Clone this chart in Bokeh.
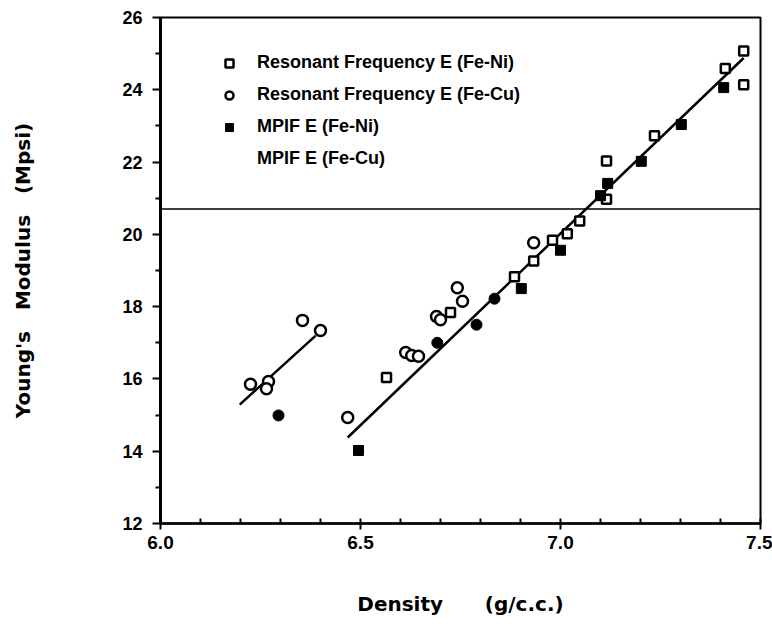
from bokeh.plotting import figure
from bokeh.models import Range1d, Span, Legend, LegendItem, FixedTicker
from bokeh.embed import file_html
from bokeh.resources import INLINE

# Resonant Frequency E (Fe-Ni) - open squares
rf_ni_x = [6.565, 6.725, 6.885, 6.933, 6.98, 7.017, 7.048, 7.115, 7.115, 7.235, 7.412, 7.458, 7.458]
rf_ni_y = [16.04, 17.84, 18.83, 19.26, 19.84, 20.02, 20.37, 22.03, 20.97, 22.73, 24.59, 25.07, 24.14]

# Resonant Frequency E (Fe-Cu) - open circles
rf_cu_x = [6.225, 6.27, 6.265, 6.355, 6.40, 6.468, 6.613, 6.628, 6.645, 6.69, 6.70, 6.742, 6.755, 6.933]
rf_cu_y = [15.85, 15.93, 15.73, 17.62, 17.34, 14.93, 16.73, 16.65, 16.63, 17.73, 17.64, 18.52, 18.15, 19.77]

# MPIF E (Fe-Ni) - filled squares
mp_ni_x = [6.495, 6.902, 7.0, 7.1, 7.118, 7.202, 7.302, 7.408]
mp_ni_y = [14.02, 18.5, 19.56, 21.07, 21.41, 22.02, 23.04, 24.06]

# MPIF E (Fe-Cu) - filled circles
mp_cu_x = [6.295, 6.692, 6.79, 6.835]
mp_cu_y = [14.99, 17.0, 17.5, 18.22]

# fitted lines
fit_cu_x = [6.198, 6.388]
fit_cu_y = [15.29, 17.2]
fit_ni_x = [6.468, 7.458]
fit_ni_y = [14.38, 24.88]

x_ticks = [6.0, 6.5, 7.0, 7.5]
y_ticks = [12, 14, 16, 18, 20, 22, 24, 26]

FONT = "Liberation Sans"
LABEL_FONT = "DejaVu Sans"
NB = "\u00a0"

p = figure(width=772, height=629, output_backend="svg", toolbar_location=None,
           x_range=Range1d(6.0, 7.5), y_range=Range1d(12, 26),
           min_border_left=160, min_border_right=12, min_border_top=17, min_border_bottom=106)
p.xgrid.visible = False
p.ygrid.visible = False
p.outline_line_color = "black"
p.outline_line_width = 2
p.background_fill_color = "white"
p.border_fill_color = "white"

# scan seam line
p.add_layout(Span(location=20.7, dimension="width", line_color="black", line_width=1.5))

p.line(fit_cu_x, fit_cu_y, line_color="black", line_width=2.5)
p.line(fit_ni_x, fit_ni_y, line_color="black", line_width=2.5)

r1 = p.scatter(rf_ni_x, rf_ni_y, marker="square", size=9, fill_color="white",
               line_color="black", line_width=2.5)
r2 = p.scatter(rf_cu_x, rf_cu_y, marker="circle", size=11, fill_color="white",
               line_color="black", line_width=2.5)
r3 = p.scatter(mp_ni_x, mp_ni_y, marker="square", size=10, fill_color="black",
               line_color="black", line_width=1)
r4 = p.scatter(mp_cu_x, mp_cu_y, marker="circle", size=11, fill_color="black",
               line_color="black", line_width=1)
r5 = p.scatter([], [], marker="circle", size=1, fill_alpha=0, line_alpha=0)

legend = Legend(items=[
    LegendItem(label="Resonant Frequency E (Fe-Ni)", renderers=[r1]),
    LegendItem(label="Resonant Frequency E (Fe-Cu)", renderers=[r2]),
    LegendItem(label="MPIF E (Fe-Ni)", renderers=[r3]),
    LegendItem(label="MPIF E (Fe-Cu)", renderers=[r5]),
], location=(59, 354))
legend.border_line_alpha = 0
legend.background_fill_alpha = 0
legend.padding = 0
legend.margin = 0
legend.glyph_width = 20
legend.glyph_height = 20
legend.label_height = 20
legend.spacing = 11
legend.label_standoff = 18
legend.label_text_font = FONT
legend.label_text_font_style = "bold"
legend.label_text_font_size = "18px"
legend.label_text_color = "black"
p.add_layout(legend, "center")

xa = p.xaxis[0]
xa.ticker = FixedTicker(ticks=x_ticks, minor_ticks=[6 + 0.1 * i for i in range(16)])
xa.major_label_overrides = {6.0: "6.0", 6.5: "6.5", 7.0: "7.0", 7.5: "7.5"}
xa.axis_line_width = 2.5
xa.major_tick_line_width = 2
xa.major_tick_out = 6
xa.major_tick_in = 0
xa.minor_tick_in = 5
xa.minor_tick_out = 0
xa.minor_tick_line_width = 2
xa.major_label_text_font = FONT
xa.major_label_text_font_style = "bold"
xa.major_label_text_font_size = "19px"
xa.major_label_text_color = "black"
xa.major_label_standoff = 6
xa.axis_label = "Density" + NB * 6 + "(g/c.c.)"
xa.axis_label_text_font = LABEL_FONT
xa.axis_label_text_font_style = "bold"
xa.axis_label_text_font_size = "20px"
xa.axis_label_text_color = "black"
xa.axis_label_standoff = 40

ya = p.yaxis[0]
ya.ticker = FixedTicker(ticks=y_ticks, minor_ticks=[13, 15, 17, 19, 21, 23, 25])
ya.axis_line_width = 3
ya.major_tick_line_width = 2
ya.major_tick_out = 8
ya.major_tick_in = 0
ya.minor_tick_out = 5
ya.minor_tick_in = 0
ya.minor_tick_line_width = 2
ya.major_label_text_font = FONT
ya.major_label_text_font_style = "bold"
ya.major_label_text_font_size = "18px"
ya.major_label_text_color = "black"
ya.major_label_standoff = 10
ya.axis_label = "Young's" + NB * 3 + "Modulus" + NB * 3 + "(Mpsi)"
ya.axis_label_text_font = LABEL_FONT
ya.axis_label_text_font_style = "bold"
ya.axis_label_text_font_size = "20px"
ya.axis_label_text_color = "black"
ya.axis_label_standoff = 84

open("out.html", "w").write(file_html(p, INLINE))
